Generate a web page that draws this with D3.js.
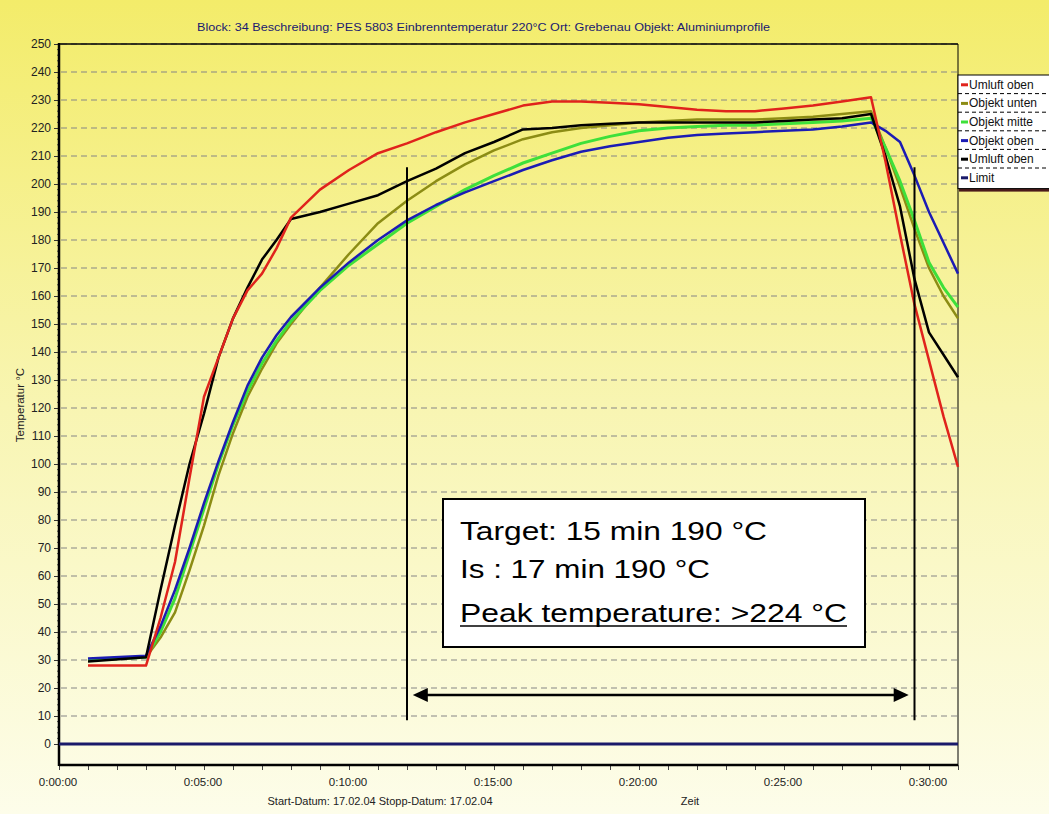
<!DOCTYPE html>
<html>
<head>
<meta charset="utf-8">
<script src="https://cdn.jsdelivr.net/npm/d3@7"></script>
<style>
  body { margin: 0; padding: 0; overflow: hidden; }
  svg { display: block; font-family: "Liberation Sans", Arial, sans-serif; }
</style>
</head>
<body>
<svg id="chart" width="1049" height="814"></svg>
<script>
// time in minutes
const times = [1, 3, 3.5, 4, 4.5, 5, 5.5, 6, 6.5, 7, 7.5, 8, 9, 10, 11, 12, 13, 14, 15, 16, 17, 18, 19, 20,
               21, 22, 23, 24, 25, 26, 27, 28, 28.5, 29, 29.5, 30, 30.5, 31];

const umluftOben1 = [28, 28, 45, 65, 95, 124, 138, 152, 162, 168, 177, 188, 198, 205, 211, 214.5, 218.5, 222, 225, 228,
                     229.5, 229.5, 229, 228.5, 227.5, 226.5, 226, 226, 227, 228, 229.5, 231, 208, 182, 157, 137, 117, 99];
const objektUnten = [30, 31, 38, 47, 62, 78, 96, 111, 124, 134, 143, 150, 163, 175, 186, 194, 201, 207, 212, 216,
                     218.5, 220, 221, 222, 222.5, 223, 223, 223, 223.5, 224, 225, 226, 213, 199, 184, 170, 160, 152];
const objektMitte = [30, 31, 40, 52, 68, 84, 100, 114, 126, 136, 144, 151, 162, 171, 178.5, 186, 192, 198, 203, 207.5,
                     211, 214.5, 217, 219, 220, 220.5, 221, 221, 221.5, 222, 222.5, 223.5, 213, 201, 187, 172, 163, 156];
const objektOben  = [30.5, 31.5, 42, 55, 70, 86, 101, 115, 128, 138, 146, 152.5, 163, 172, 180, 187, 192.5, 197, 201, 205,
                     208.5, 211.5, 213.5, 215, 216.5, 217.5, 218, 218.5, 219, 219.5, 220.5, 222, 219, 215, 203, 190, 179, 168];
const umluftOben2 = [29.5, 31, 55, 78, 100, 118, 138, 152, 163, 173, 180, 187.5, 190, 193, 196, 201, 205.5, 211, 215, 219.5,
                     220, 221, 221.5, 222, 222, 222, 222, 222, 222.5, 223, 223.5, 225, 210, 192, 166, 147, 139, 131];
const limitValue = 0;

const seriesNames  = ["Umluft oben", "Objekt unten", "Objekt mitte", "Objekt oben", "Umluft oben", "Limit"];
const seriesColors = ["#e0231c", "#8c8c14", "#3ee03a", "#1c1cb4", "#000000", "#1a1a6a"];

const yTicks = d3.range(0, 251, 10);
const xTicks = [0, 5, 10, 15, 20, 25, 30];
const markerTimes = [12, 29.5];
const arrowSpan = [12.2, 29.3];

const svg = d3.select("#chart");

// background gradient
const defs = svg.append("defs");
const grad = defs.append("linearGradient").attr("id", "bg").attr("x1", 0).attr("y1", 0).attr("x2", 0).attr("y2", 1);
grad.append("stop").attr("offset", "0%").attr("stop-color", "#f3ec6a");
grad.append("stop").attr("offset", "50%").attr("stop-color", "#f8f5b2");
grad.append("stop").attr("offset", "100%").attr("stop-color", "#fdfdea");
svg.append("rect").attr("width", 1049).attr("height", 814).attr("fill", "url(#bg)");

const plotLeft = 59, plotRight = 958, plotTop = 44;
const x = d3.scaleLinear().domain([0, 31]).range([plotLeft, plotRight]);
const y = d3.scaleLinear().domain([0, 250]).range([744, plotTop]);
const plotBottom = y(-7.5);

// title
svg.append("text").attr("x", 197).attr("y", 31)
  .attr("font-size", 11).attr("fill", "#1a1a70")
  .attr("textLength", 573).attr("lengthAdjust", "spacingAndGlyphs")
  .text("Block: 34 Beschreibung: PES 5803 Einbrenntemperatur 220°C  Ort: Grebenau  Objekt: Aluminiumprofile");

// grid
svg.append("g").selectAll("line").data(yTicks.filter(d => d > 0)).enter().append("line")
  .attr("x1", plotLeft + 2).attr("x2", plotRight)
  .attr("y1", d => y(d)).attr("y2", d => y(d))
  .attr("stroke", "#858585").attr("stroke-width", 1.2).attr("stroke-dasharray", "6,4");

// frame
svg.append("line").attr("x1", plotLeft).attr("x2", plotRight).attr("y1", plotTop).attr("y2", plotTop)
  .attr("stroke", "#000").attr("stroke-width", 1.5);
svg.append("line").attr("x1", plotRight).attr("x2", plotRight).attr("y1", plotTop).attr("y2", plotBottom)
  .attr("stroke", "#000").attr("stroke-width", 1);

// y axis
const yAxis = d3.axisLeft(y).tickValues(yTicks).tickSize(5).tickPadding(3);
const gy = svg.append("g").attr("transform", "translate(" + plotLeft + ",0)").call(yAxis);
gy.select(".domain").remove();
gy.selectAll("text").attr("font-size", 12).attr("fill", "#222").attr("font-family", "Liberation Sans, Arial");
gy.selectAll("line").attr("stroke", "#333");
svg.append("g").selectAll("line").data(d3.range(2, 250, 2).filter(d => d % 10 !== 0)).enter().append("line")
  .attr("x1", plotLeft - 2).attr("x2", plotLeft).attr("y1", d => y(d)).attr("y2", d => y(d))
  .attr("stroke", "#555").attr("stroke-width", 1);
svg.append("line").attr("x1", plotLeft).attr("x2", plotLeft).attr("y1", plotTop - 1).attr("y2", plotBottom + 1)
  .attr("stroke", "#000").attr("stroke-width", 2.5);

// x axis
const xAxis = d3.axisBottom(x).tickValues(d3.range(0, 32, 1)).tickSize(5).tickFormat("");
const gx = svg.append("g").attr("transform", "translate(0," + plotBottom + ")").call(xAxis);
gx.select(".domain").remove();
gx.selectAll("line").attr("stroke", "#444");
svg.append("line").attr("x1", plotLeft).attr("x2", plotRight).attr("y1", plotBottom).attr("y2", plotBottom)
  .attr("stroke", "#000").attr("stroke-width", 2.5);
svg.append("g").selectAll("text").data(xTicks).enter().append("text")
  .attr("x", d => x(d) - 1).attr("y", plotBottom + 21)
  .attr("text-anchor", "middle").attr("font-size", 11.5).attr("fill", "#222")
  .text(d => "0:" + d3.format("02")(d) + ":00");

svg.append("text").attr("x", 380).attr("y", 805).attr("text-anchor", "middle")
  .attr("font-size", 11).attr("fill", "#222").text("Start-Datum: 17.02.04   Stopp-Datum: 17.02.04");
svg.append("text").attr("x", 690).attr("y", 805).attr("text-anchor", "middle")
  .attr("font-size", 11).attr("fill", "#222").text("Zeit");
svg.append("text").attr("transform", "translate(24,405) rotate(-90)").attr("text-anchor", "middle")
  .attr("font-size", 11.5).attr("fill", "#222").text("Temperatur  °C");

// limit
svg.append("line").attr("x1", plotLeft).attr("x2", plotRight).attr("y1", y(limitValue)).attr("y2", y(limitValue))
  .attr("stroke", seriesColors[5]).attr("stroke-width", 3);

// series lines
const seriesData = [umluftOben1, objektUnten, objektMitte, objektOben, umluftOben2];
const drawOrder = [1, 2, 3, 4, 0];
const line = d3.line().x(d => x(d[0])).y(d => y(d[1]));
drawOrder.forEach(function(i) {
  svg.append("path")
    .datum(times.map((t, k) => [t, seriesData[i][k]]))
    .attr("d", line)
    .attr("fill", "none")
    .attr("stroke", seriesColors[i])
    .attr("stroke-width", i === 2 ? 3 : 2.5)
    .attr("stroke-linejoin", "round");
});

// marker lines
svg.append("g").selectAll("line").data(markerTimes).enter().append("line")
  .attr("x1", d => x(d)).attr("x2", d => x(d))
  .attr("y1", y(206)).attr("y2", y(8.5))
  .attr("stroke", "#000").attr("stroke-width", 2);

// double arrow
const ay = y(17.5);
svg.append("line").attr("x1", x(arrowSpan[0]) + 8).attr("x2", x(arrowSpan[1]) - 8)
  .attr("y1", ay).attr("y2", ay).attr("stroke", "#000").attr("stroke-width", 2.5);
const ax0 = x(arrowSpan[0]), ax1 = x(arrowSpan[1]);
svg.append("path").attr("d", "M" + ax0 + "," + ay + "L" + (ax0 + 15) + "," + (ay - 7) + "L" + (ax0 + 15) + "," + (ay + 7) + "Z");
svg.append("path").attr("d", "M" + ax1 + "," + ay + "L" + (ax1 - 15) + "," + (ay - 7) + "L" + (ax1 - 15) + "," + (ay + 7) + "Z");

// annotation box
svg.append("rect").attr("x", 443).attr("y", 499).attr("width", 422).attr("height", 148)
  .attr("fill", "#fff").attr("stroke", "#000").attr("stroke-width", 2);
const noteLines = [
  { text: "Target: 15 min 190 °C", y: 540, w: 307 },
  { text: "Is : 17 min 190 °C", y: 578, w: 250 },
  { text: "Peak temperature: >224 °C", y: 622, w: 387 }
];
svg.append("g").selectAll("text").data(noteLines).enter().append("text")
  .attr("x", 460).attr("y", d => d.y).attr("font-size", 25).attr("fill", "#000")
  .attr("textLength", d => d.w).attr("lengthAdjust", "spacingAndGlyphs")
  .text(d => d.text);
svg.append("line").attr("x1", 460).attr("x2", 847).attr("y1", 626).attr("y2", 626)
  .attr("stroke", "#000").attr("stroke-width", 1.5);

// legend
const lgTop = 75, lgRow = 18.6;
svg.append("rect").attr("x", 959).attr("y", lgTop + 6 * lgRow + 1).attr("width", 92).attr("height", 4).attr("fill", "#4a1a1a");
svg.append("rect").attr("x", 958).attr("y", lgTop).attr("width", 95).attr("height", 6 * lgRow + 2)
  .attr("fill", "#fff").attr("stroke", "#000").attr("stroke-width", 1);
const lg = svg.append("g").selectAll("g").data(seriesNames).enter().append("g")
  .attr("transform", (d, i) => "translate(958," + (lgTop + i * lgRow) + ")");
lg.filter((d, i) => i > 0).append("line").attr("x1", 0).attr("x2", 95).attr("y1", 0).attr("y2", 0)
  .attr("stroke", "#000").attr("stroke-dasharray", "4,3").attr("stroke-width", 1);
lg.append("line").attr("x1", 3).attr("x2", 10).attr("y1", lgRow / 2 + 0.5).attr("y2", lgRow / 2 + 0.5)
  .attr("stroke", (d, i) => seriesColors[i]).attr("stroke-width", 3);
lg.append("text").attr("x", 11).attr("y", lgRow / 2 + 4.5).attr("font-size", 12).attr("fill", "#111")
  .text(d => d);
</script>
</body>
</html>
